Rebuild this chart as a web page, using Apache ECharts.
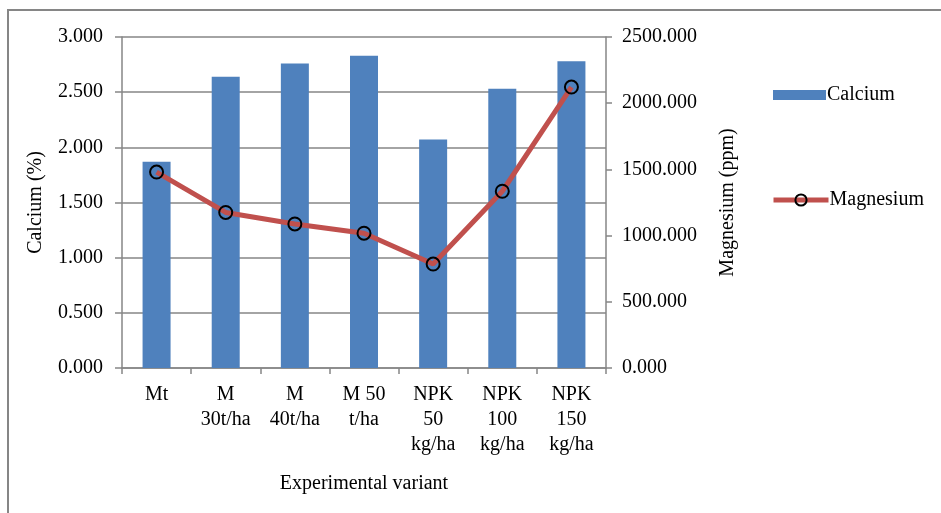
<!DOCTYPE html>
<html>
<head>
<meta charset="utf-8">
<script src="https://cdn.jsdelivr.net/npm/echarts@6/dist/echarts.min.js"></script>
<style>html,body{margin:0;padding:0;background:#fff;}#c{width:941px;height:513px;}</style>
</head>
<body>
<div id="c"></div>
<script>
var categories = ['Mt', 'M\n30t/ha', 'M\n40t/ha', 'M 50\nt/ha', 'NPK\n50\nkg/ha', 'NPK\n100\nkg/ha', 'NPK\n150\nkg/ha'];
var calcium = [1.87, 2.64, 2.76, 2.83, 2.07, 2.53, 2.78];
var magnesium = [1480, 1175, 1088, 1018, 785, 1335, 2122];
var leftTicks = [0, 3, 0.5];
var rightTicks = [0, 2500, 500];

var FONT = 'Liberation Serif';
var FS = 20;
var AX = '#868686';
var chart = echarts.init(document.getElementById('c'));
chart.setOption({
  animation: false,
  textStyle: {fontFamily: FONT, color: '#000'},
  graphic: [{
    type: 'rect', shape: {x: 8, y: 10, width: 1000, height: 600},
    style: {fill: 'none', stroke: AX, lineWidth: 2}, silent: true, z: -1
  }],
  grid: {left: 122, right: 335, top: 37, bottom: 145, containLabel: false},
  legend: [
    {data: [{name: 'Calcium', icon: 'rect'}], left: 768, top: 80, itemWidth: 53, itemHeight: 10, itemGap: 4,
     textStyle: {fontFamily: FONT, fontSize: FS, color: '#000', padding: [0, 0, 0, -4]}},
    {data: ['Magnesium'], left: 766, top: 185, itemWidth: 55, itemHeight: 14, itemGap: 4,
     lineStyle: {width: 5},
     textStyle: {fontFamily: FONT, fontSize: FS, color: '#000', padding: [0, 0, 0, -4]}}
  ],
  xAxis: {
    type: 'category', data: categories,
    name: 'Experimental variant', nameLocation: 'middle', nameGap: 106,
    nameTextStyle: {fontFamily: FONT, fontSize: FS, color: '#000'},
    axisLine: {lineStyle: {color: AX, width: 1.5}},
    axisTick: {show: true, length: 6, lineStyle: {color: AX, width: 1.5}},
    axisLabel: {fontFamily: FONT, fontSize: FS, color: '#000', lineHeight: 25, margin: 14, interval: 0}
  },
  yAxis: [{
    type: 'value', min: leftTicks[0], max: leftTicks[1], interval: leftTicks[2],
    name: 'Calcium (%)', nameLocation: 'middle', nameGap: 76, nameRotate: 90,
    nameTextStyle: {fontFamily: FONT, fontSize: FS, color: '#000'},
    axisLine: {show: true, lineStyle: {color: AX, width: 1.5}},
    axisTick: {show: true, length: 7, lineStyle: {color: AX, width: 1.5}},
    axisLabel: {fontFamily: FONT, fontSize: FS, color: '#000', margin: 19,
      formatter: function (v) { return v.toFixed(3); }},
    splitLine: {show: true, lineStyle: {color: AX, width: 1.5}}
  }, {
    type: 'value', min: rightTicks[0], max: rightTicks[1], interval: rightTicks[2],
    position: 'right',
    name: 'Magnesium (ppm)', nameLocation: 'middle', nameGap: 112, nameRotate: 90,
    nameTextStyle: {fontFamily: FONT, fontSize: FS, color: '#000'},
    axisLine: {show: true, lineStyle: {color: AX, width: 1.5}},
    axisTick: {show: true, length: 6, lineStyle: {color: AX, width: 1.5}},
    axisLabel: {fontFamily: FONT, fontSize: FS, color: '#000', margin: 16,
      formatter: function (v) { return v.toFixed(3); }},
    splitLine: {show: false}
  }],
  series: [{
    name: 'Calcium', type: 'bar', data: calcium, yAxisIndex: 0,
    barWidth: 28, itemStyle: {color: '#4F81BD'}
  }, {
    name: 'Magnesium', type: 'line', data: magnesium, yAxisIndex: 1,
    symbol: 'circle', symbolSize: 13,
    lineStyle: {color: '#C0504D', width: 5},
    itemStyle: {color: 'rgba(0,0,0,0)', borderColor: '#000', borderWidth: 2}
  }]
});
</script>
</body>
</html>
